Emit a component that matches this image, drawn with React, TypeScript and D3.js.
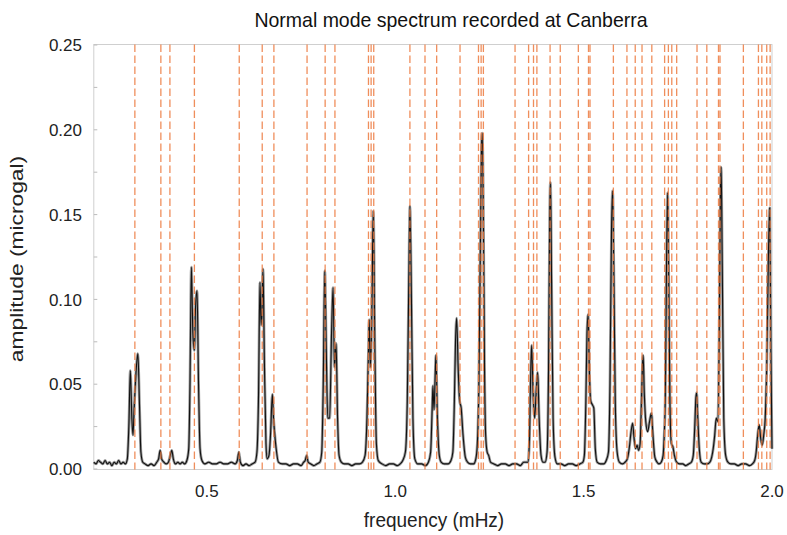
import React from 'react';
import * as d3 from 'd3';

const title = 'Normal mode spectrum recorded at Canberra';
const xLabel = 'frequency (mHz)';
const yLabel = 'amplitude (microgal)';
const xTicks = [0.5, 1.0, 1.5, 2.0];
const yTicks = [0, 0.05, 0.1, 0.15, 0.2, 0.25];
const yMinorTicks = [0.025, 0.075, 0.125, 0.175, 0.225];

// predicted normal-mode frequencies (dashed lines), mHz
const modeFrequencies = [
  0.309, 0.378, 0.402, 0.467, 0.586, 0.647, 0.678, 0.766, 0.814, 0.840,
  0.929, 0.936, 0.943, 1.039, 1.079, 1.110, 1.172, 1.221, 1.228, 1.234,
  1.318, 1.354, 1.367, 1.376, 1.411, 1.438, 1.486, 1.513, 1.517, 1.579,
  1.615, 1.637, 1.655, 1.681, 1.715, 1.725, 1.734, 1.747, 1.801, 1.827,
  1.858, 1.862, 1.924, 1.964, 1.973, 1.986, 1.995,
];

// observed spectrum [frequency mHz, amplitude microgal]
const spectrum: [number, number][] = [
  [0.200,0.004],[0.206,0.003],[0.212,0.005],[0.218,0.004],[0.224,0.003],[0.230,0.005],[0.236,0.003],
  [0.242,0.004],[0.248,0.002],[0.254,0.004],[0.260,0.003],[0.266,0.005],[0.272,0.003],[0.278,0.004],
  [0.284,0.003],[0.289,0.006],[0.293,0.025],[0.297,0.058],[0.301,0.030],[0.304,0.020],[0.307,0.035],
  [0.313,0.060],[0.317,0.068],[0.321,0.040],[0.325,0.010],[0.330,0.004],[0.336,0.003],[0.344,0.002],
  [0.352,0.003],[0.360,0.002],[0.367,0.004],[0.372,0.006],[0.376,0.011],[0.380,0.006],[0.386,0.004],
  [0.392,0.003],[0.398,0.004],[0.403,0.008],[0.407,0.011],[0.411,0.006],[0.417,0.003],[0.423,0.004],
  [0.429,0.003],[0.435,0.004],[0.441,0.003],[0.447,0.005],[0.452,0.012],[0.455,0.045],[0.459,0.119],
  [0.463,0.080],[0.467,0.070],[0.470,0.095],[0.474,0.105],[0.478,0.050],[0.482,0.012],[0.487,0.005],
  [0.495,0.003],[0.505,0.004],[0.515,0.003],[0.525,0.003],[0.535,0.004],[0.545,0.003],[0.555,0.003],
  [0.565,0.004],[0.575,0.003],[0.581,0.005],[0.585,0.010],[0.589,0.004],[0.596,0.002],[0.604,0.003],
  [0.612,0.002],[0.620,0.003],[0.628,0.004],[0.633,0.010],[0.637,0.040],[0.641,0.110],[0.644,0.085],
  [0.646,0.090],[0.649,0.118],[0.653,0.060],[0.657,0.015],[0.660,0.006],[0.665,0.008],[0.669,0.020],
  [0.674,0.044],[0.677,0.030],[0.680,0.021],[0.684,0.012],[0.690,0.004],[0.700,0.003],[0.710,0.003],
  [0.720,0.002],[0.730,0.003],[0.740,0.003],[0.750,0.002],[0.757,0.004],[0.761,0.005],[0.765,0.008],
  [0.769,0.004],[0.776,0.003],[0.784,0.002],[0.792,0.003],[0.800,0.004],[0.805,0.010],[0.809,0.050],
  [0.813,0.117],[0.817,0.070],[0.821,0.030],[0.826,0.030],[0.831,0.080],[0.835,0.107],[0.839,0.060],
  [0.843,0.074],[0.847,0.030],[0.851,0.008],[0.857,0.004],[0.865,0.003],[0.875,0.003],[0.885,0.002],
  [0.895,0.003],[0.905,0.003],[0.913,0.004],[0.920,0.008],[0.925,0.030],[0.929,0.070],[0.931,0.088],
  [0.934,0.060],[0.937,0.080],[0.940,0.130],[0.942,0.152],[0.946,0.070],[0.950,0.015],[0.955,0.005],
  [0.965,0.003],[0.975,0.002],[0.985,0.003],[0.995,0.003],[1.005,0.002],[1.013,0.003],[1.020,0.005],
  [1.027,0.010],[1.032,0.040],[1.036,0.110],[1.039,0.155],[1.043,0.100],[1.047,0.030],[1.052,0.006],
  [1.060,0.003],[1.070,0.003],[1.080,0.002],[1.088,0.004],[1.094,0.010],[1.098,0.035],[1.100,0.049],
  [1.103,0.035],[1.106,0.055],[1.108,0.067],[1.112,0.030],[1.117,0.008],[1.122,0.004],[1.130,0.003],
  [1.140,0.003],[1.148,0.005],[1.153,0.010],[1.157,0.040],[1.160,0.075],[1.163,0.089],[1.167,0.060],
  [1.171,0.040],[1.175,0.036],[1.180,0.020],[1.186,0.007],[1.192,0.004],[1.200,0.003],[1.208,0.003],
  [1.214,0.006],[1.218,0.015],[1.222,0.050],[1.226,0.130],[1.229,0.190],[1.231,0.198],[1.234,0.150],
  [1.237,0.060],[1.240,0.020],[1.244,0.010],[1.248,0.008],[1.253,0.004],[1.262,0.003],[1.272,0.002],
  [1.282,0.003],[1.292,0.003],[1.302,0.002],[1.312,0.003],[1.322,0.003],[1.332,0.002],[1.341,0.004],
  [1.352,0.004],[1.356,0.015],[1.359,0.050],[1.362,0.073],[1.366,0.045],[1.370,0.030],[1.374,0.045],
  [1.378,0.057],[1.382,0.030],[1.387,0.008],[1.392,0.004],[1.398,0.004],[1.403,0.010],[1.407,0.060],
  [1.410,0.150],[1.412,0.169],[1.415,0.110],[1.419,0.030],[1.424,0.007],[1.430,0.003],[1.440,0.003],
  [1.450,0.002],[1.460,0.003],[1.470,0.003],[1.480,0.002],[1.490,0.003],[1.498,0.004],[1.502,0.008],
  [1.506,0.040],[1.509,0.080],[1.512,0.091],[1.515,0.060],[1.519,0.040],[1.523,0.038],[1.527,0.036],
  [1.531,0.012],[1.536,0.004],[1.545,0.003],[1.553,0.003],[1.560,0.005],[1.566,0.010],[1.570,0.050],
  [1.574,0.140],[1.577,0.164],[1.580,0.120],[1.584,0.040],[1.589,0.010],[1.595,0.004],[1.603,0.003],
  [1.610,0.004],[1.616,0.006],[1.621,0.012],[1.626,0.022],[1.630,0.027],[1.634,0.018],[1.638,0.012],
  [1.642,0.014],[1.646,0.011],[1.650,0.015],[1.653,0.035],[1.656,0.060],[1.658,0.067],[1.661,0.045],
  [1.665,0.028],[1.670,0.022],[1.675,0.028],[1.680,0.033],[1.684,0.020],[1.689,0.007],[1.695,0.004],
  [1.700,0.003],[1.706,0.004],[1.711,0.008],[1.714,0.020],[1.717,0.045],[1.720,0.120],[1.723,0.163],
  [1.726,0.110],[1.729,0.040],[1.733,0.015],[1.737,0.013],[1.741,0.008],[1.747,0.004],[1.755,0.003],
  [1.763,0.003],[1.771,0.002],[1.779,0.003],[1.786,0.004],[1.791,0.008],[1.795,0.025],[1.798,0.042],
  [1.800,0.045],[1.803,0.030],[1.807,0.012],[1.812,0.004],[1.820,0.003],[1.828,0.003],[1.835,0.004],
  [1.840,0.007],[1.844,0.012],[1.848,0.020],[1.852,0.030],[1.856,0.028],[1.860,0.080],[1.863,0.160],
  [1.865,0.178],[1.868,0.120],[1.872,0.030],[1.877,0.008],[1.883,0.004],[1.891,0.003],[1.900,0.003],
  [1.910,0.002],[1.920,0.003],[1.930,0.003],[1.940,0.002],[1.948,0.003],[1.954,0.005],[1.958,0.010],
  [1.962,0.020],[1.966,0.026],[1.970,0.018],[1.974,0.014],[1.978,0.020],[1.982,0.030],[1.986,0.060],
  [1.990,0.120],[1.994,0.154],[1.997,0.070],[2.000,0.012],
];

const W = 787;
const H = 535;
const plot = { left: 93.8, right: 772, top: 44.5, bottom: 469.5 };
const font = '"Liberation Sans", Arial, Helvetica, sans-serif';

export default function App() {
  const x = d3.scaleLinear().domain([0.2, 2.0]).range([plot.left, plot.right]);
  const y = d3.scaleLinear().domain([0, 0.25]).range([469, 45]);
  const line = d3
    .line<[number, number]>()
    .x((d) => x(d[0]))
    .y((d) => y(d[1]))
    .curve(d3.curveMonotoneX);
  const d = line(spectrum) || '';

  return (
    <svg
      width={W}
      height={H}
      viewBox={`0 0 ${W} ${H}`}
      style={{ position: 'absolute', left: 0, top: 0, background: '#fff' }}
      fontFamily={font}
    >
      <rect x={0} y={0} width={W} height={H} fill="#fff" />
      <text transform="translate(451,27) scale(1,1.08)" textAnchor="middle" fontSize={19.5} fill="#111">
        {title}
      </text>
      <rect
        x={plot.left}
        y={plot.top}
        width={plot.right - plot.left}
        height={plot.bottom - plot.top}
        fill="none"
        stroke="#cfcfcf"
        strokeWidth={1}
      />
      {yMinorTicks.concat(yTicks).map((t) => (
        <line key={'yt' + t} x1={plot.left} x2={plot.left + 3.5} y1={y(t)} y2={y(t)} stroke="#bbb" strokeWidth={1} />
      ))}
      <path d={d} fill="none" stroke="#9a9a9a" strokeWidth={2.8} strokeLinejoin="round" />
      <path d={d} fill="none" stroke="#111" strokeWidth={1.1} strokeLinejoin="round" />
      {modeFrequencies.map((f, i) => (
        <line
          key={'m' + i}
          x1={x(f)}
          x2={x(f)}
          y1={plot.top}
          y2={plot.bottom}
          stroke="#ec7a40"
          strokeOpacity={0.85}
          strokeWidth={1.3}
          strokeDasharray="7.5 3.5"
        />
      ))}
      {yTicks.map((t) => (
        <text key={'yl' + t} x={82} y={y(t)} dy="0.36em" textAnchor="end" fontSize={17} fill="#222">
          {t.toFixed(2)}
        </text>
      ))}
      {xTicks.map((t) => (
        <text key={'xl' + t} x={x(t)} y={497} textAnchor="middle" fontSize={17} fill="#222">
          {t.toFixed(1)}
        </text>
      ))}
      <text transform="translate(434,527) scale(1,1.08)" textAnchor="middle" fontSize={19} fill="#222">
        {xLabel}
      </text>
      <text
        transform={`translate(23,${259}) scale(1,1.2) rotate(-90)`}
        textAnchor="middle"
        fontSize={19}
        fill="#222"
      >
        {yLabel}
      </text>
    </svg>
  );
}
